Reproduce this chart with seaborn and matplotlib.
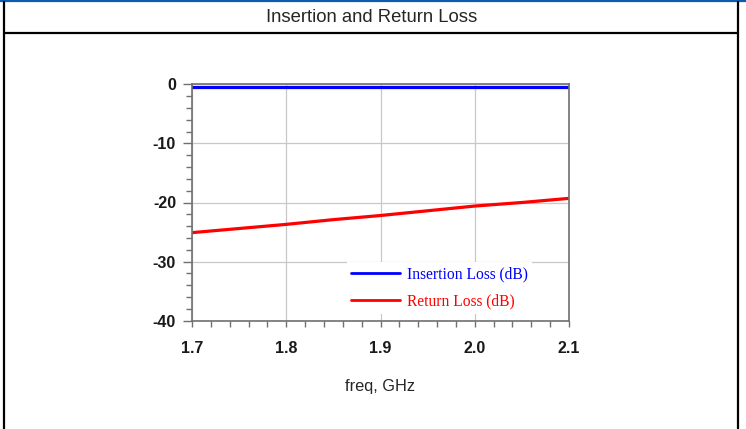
import matplotlib
matplotlib.use("Agg")
import matplotlib.pyplot as plt
from matplotlib.lines import Line2D
from matplotlib.ticker import MultipleLocator
import pandas as pd
import seaborn as sns

# values
freq = [1.70, 1.75, 1.80, 1.85, 1.90, 1.95, 2.00, 2.05, 2.10]
insertion_loss = [-0.4, -0.4, -0.4, -0.4, -0.4, -0.4, -0.4, -0.4, -0.4]
return_loss = [-25.1, -24.4, -23.7, -22.9, -22.2, -21.4, -20.6, -20.0, -19.3]

title = "Insertion and Return Loss"
x_label = "freq, GHz"
x_ticks = [1.7, 1.8, 1.9, 2.0, 2.1]
y_ticks = [0, -10, -20, -30, -40]

df = pd.DataFrame({"freq": freq, "il": insertion_loss, "rl": return_loss})

sns.set_style("white")
plt.rcParams["font.family"] = ["Liberation Sans", "DejaVu Sans"]

fig = plt.figure(figsize=(7.46, 4.29), dpi=100)

# table frame around the chart
fig.add_artist(Line2D([0, 1], [1 - 0.8 / 429, 1 - 0.8 / 429], color="#0b5cb0", lw=1.6))
fig.add_artist(Line2D([4 / 746, 4 / 746], [0, 1 - 2 / 429], color="black", lw=1.6))
fig.add_artist(Line2D([738 / 746, 738 / 746], [0, 1 - 2 / 429], color="black", lw=1.6))
fig.add_artist(Line2D([4 / 746, 738 / 746], [1 - 33.3 / 429, 1 - 33.3 / 429], color="black", lw=1.6))
fig.text(371.5 / 746, 1 - 17.5 / 429, title, ha="center", va="center", fontsize=13.3)

ax = fig.add_axes([192 / 746, 1 - 320.7 / 429, (569 - 192) / 746, (320.7 - 84.3) / 429])

sns.lineplot(data=df, x="freq", y="il", ax=ax, color="#0000ff", lw=2.3, label="Insertion Loss (dB)")
sns.lineplot(data=df, x="freq", y="rl", ax=ax, color="#ff0000", lw=2.3, label="Return Loss (dB)")

ax.set_xlim(1.7, 2.1)
ax.set_ylim(-40, 0)
ax.set_xticks(x_ticks)
ax.set_xticklabels([f"{t:.1f}" for t in x_ticks], fontweight="bold")
ax.set_yticks(y_ticks)
ax.set_yticklabels([str(t) for t in y_ticks], fontweight="bold")
ax.xaxis.set_minor_locator(MultipleLocator(0.02))
ax.yaxis.set_minor_locator(MultipleLocator(2))
ax.grid(True, which="major", color="#c8c8c8", lw=0.9)
ax.set_axisbelow(True)

for s in ax.spines.values():
    s.set_color("#707070")
    s.set_linewidth(1.2)

ax.tick_params(axis="both", which="major", direction="out", color="#707070", width=1.0,
               labelsize=11.5, labelcolor="#1a1a1a")
ax.tick_params(axis="y", which="major", length=6.5, pad=5)
ax.tick_params(axis="x", which="major", length=4.5, pad=10)
ax.tick_params(axis="both", which="minor", direction="out", color="#707070", width=1.0, length=4)
ax.tick_params(bottom=True, left=True, which="both")

ax.set_xlabel(x_label, fontsize=11.8, labelpad=17)
ax.set_ylabel("")

leg = ax.legend(loc="center", bbox_to_anchor=(0.6565, 0.138), frameon=True, framealpha=1,
                edgecolor="none", fancybox=False, handlelength=3.1, handletextpad=0.45,
                labelspacing=0.74, borderpad=0.3,
                prop={"family": ["Liberation Serif"], "size": 11.2},
                labelcolor=["#0000ff", "#ff0000"])
for h in leg.get_lines():
    h.set_linewidth(2.0)

fig.savefig("out.png", dpi=100)
